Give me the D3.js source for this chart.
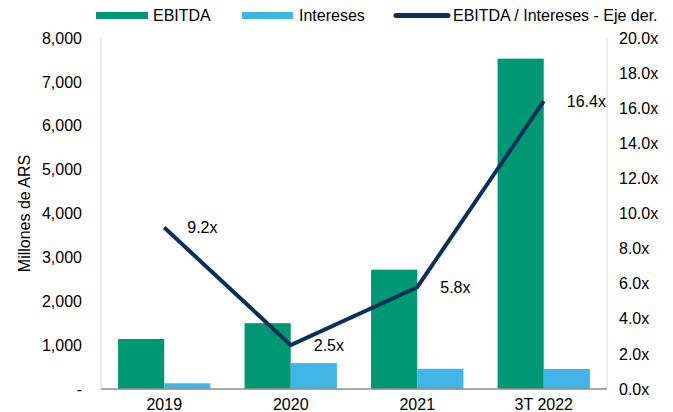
<!DOCTYPE html>
<html><head><meta charset="utf-8">
<script src="https://cdn.jsdelivr.net/npm/d3@7"></script>
<style>body{margin:0;background:#fff}svg{display:block;font-family:"Liberation Sans",Arial,sans-serif}</style>
</head><body><svg id="c" width="673" height="412"></svg>
<script>
const categories = ["2019","2020","2021","3T 2022"];
const ebitda = [1140, 1500, 2720, 7530];
const intereses = [130, 590, 460, 455];
const ratio = [9.2, 2.5, 5.8, 16.4];
const leftTicks = [0,1000,2000,3000,4000,5000,6000,7000,8000];
const rightTicks = [0,2,4,6,8,10,12,14,16,18,20];
const colors = {ebitda:"#009873", intereses:"#41B5E5", ratio:"#0A2F5B"};

const svg = d3.select("#c");
const FS = 16;
const FF = "Liberation Sans, Arial, sans-serif";
const L = 101, R = 607, T = 38, B = 389;
const x = d3.scaleBand().domain(categories).range([L,R]).paddingInner(0.27).paddingOuter(0.135);
const xs = d3.scaleBand().domain(["e","i"]).range([0,x.bandwidth()]);
const yL = d3.scaleLinear().domain([0,8000]).range([B,T]);
const yR = d3.scaleLinear().domain([0,20]).range([B,T]);
const cx = c => x(c) + x.bandwidth()/2;

// axes lines
svg.append("line").attr("x1",L).attr("x2",L).attr("y1",T).attr("y2",B).attr("stroke","#d9d9d9");
svg.append("line").attr("x1",R).attr("x2",R).attr("y1",T).attr("y2",B).attr("stroke","#d9d9d9");

// bars
const g = svg.append("g");
g.selectAll(".e").data(categories).join("rect")
  .attr("x",c=>x(c)+xs("e")).attr("width",xs.bandwidth())
  .attr("y",(c,i)=>yL(ebitda[i])).attr("height",(c,i)=>B-yL(ebitda[i]))
  .attr("fill",colors.ebitda);
g.selectAll(".i").data(categories).join("rect")
  .attr("x",c=>x(c)+xs("i")).attr("width",xs.bandwidth())
  .attr("y",(c,i)=>yL(intereses[i])).attr("height",(c,i)=>B-yL(intereses[i]))
  .attr("fill",colors.intereses);

svg.append("line").attr("x1",L).attr("x2",R).attr("y1",B).attr("y2",B).attr("stroke","#8c8c8c").attr("stroke-width",1.5);

// left axis
const la = svg.append("g").attr("transform",`translate(${L},0)`)
  .call(d3.axisLeft(yL).tickValues(leftTicks).tickSize(0).tickPadding(19)
    .tickFormat(v=> v===0 ? "-" : d3.format(",")(v)));
la.select(".domain").remove();
la.selectAll("text").attr("font-size",FS).attr("fill","#000").attr("font-family",FF);

// right axis
const ra = svg.append("g").attr("transform",`translate(${R},0)`)
  .call(d3.axisRight(yR).tickValues(rightTicks).tickSize(0).tickPadding(12)
    .tickFormat(v=> d3.format(".1f")(v)+"x"));
ra.select(".domain").remove();
ra.selectAll("text").attr("font-size",FS).attr("fill","#000").attr("font-family",FF);

// bottom axis
const ba = svg.append("g").attr("transform",`translate(0,${B})`)
  .call(d3.axisBottom(x).tickSize(0).tickPadding(10));
ba.select(".domain").remove();
ba.selectAll("text").attr("font-size",FS).attr("fill","#000").attr("font-family",FF);

// y title
svg.append("text").attr("transform",`translate(30,${(T+B)/2}) rotate(-90)`)
  .attr("text-anchor","middle").attr("font-size",FS).text("Millones de ARS");

// line
const line = d3.line().x((d,i)=>cx(categories[i])).y(d=>yR(d));
svg.append("path").datum(ratio).attr("d",line).attr("fill","none")
  .attr("stroke",colors.ratio).attr("stroke-width",4).attr("stroke-linejoin","miter");
svg.selectAll(".lbl").data(ratio).join("text")
  .attr("x",(d,i)=>cx(categories[i])+23).attr("y",d=>yR(d)).attr("dy","0.35em")
  .attr("font-size",FS).text(d=>d.toFixed(1)+"x");

// legend
const leg = svg.append("g");
leg.append("rect").attr("x",96).attr("y",12).attr("width",52).attr("height",7).attr("fill",colors.ebitda);
leg.append("text").attr("x",153).attr("y",15.5).attr("dy","0.35em").attr("font-size",FS).text("EBITDA");
leg.append("rect").attr("x",242).attr("y",12).attr("width",51).attr("height",7).attr("fill",colors.intereses);
leg.append("text").attr("x",299).attr("y",15.5).attr("dy","0.35em").attr("font-size",FS).text("Intereses");
leg.append("line").attr("x1",396).attr("x2",448).attr("y1",15.5).attr("y2",15.5).attr("stroke",colors.ratio).attr("stroke-width",5).attr("stroke-linecap","round");
leg.append("text").attr("x",453).attr("y",15.5).attr("dy","0.35em").attr("font-size",FS).text("EBITDA / Intereses - Eje der.");
</script></body></html>
